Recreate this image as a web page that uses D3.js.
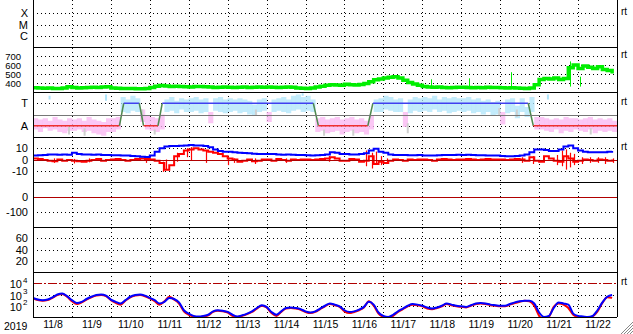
<!DOCTYPE html>
<html>
<head>
<meta charset="utf-8">
<script src="https://cdn.jsdelivr.net/npm/d3@7"></script>
<style>
  body { margin: 0; background: #fff; }
  svg { display: block; font-family: "Liberation Sans", Arial, sans-serif; }
</style>
</head>
<body>
<div id="chart"></div>
<script>
// ---- data (3-hourly from 2019-11-08 00:00) ----
const startDay = new Date(2019, 10, 8);
const dayLabels = ["11/8", "11/9", "11/10", "11/11", "11/12", "11/13", "11/14", "11/15",
                   "11/16", "11/17", "11/18", "11/19", "11/20", "11/21", "11/22"];

// solar wind speed (km/s)
const speed = [
  348, 345, 342, 345, 340, 338, 345, 358,
  350, 345, 348, 350, 352, 350, 355, 358,
  345, 342, 340, 340, 338, 336, 335, 340,
  350, 365, 372, 368, 362, 365, 360, 358,
  355, 360, 362, 358, 355, 350, 352, 355,
  352, 350, 352, 355, 350, 352, 355, 352,
  355, 352, 350, 352, 355, 352, 345, 342,
  340, 345, 355, 365, 375, 380, 378, 375,
  385, 380, 378, 382, 395, 415, 435, 445,
  455, 465, 470, 455, 430, 405, 390, 375,
  362, 355, 352, 355, 350, 348, 350, 352,
  352, 350, 348, 350, 348, 352, 350, 350,
  348, 345, 348, 345, 342, 340, 345, 380,
  440, 450, 445, 455, 440, 450, 570, 600,
  560, 590, 575, 560, 580, 550, 540, 505
];
const speedSpikes = [[10.23, 441], [11.2, 452], [12.27, 520], [13.8, 640], [14.05, 470]];

// sector model (day offset, state)
const sectorTimes  = [0, 2.22, 2.33, 2.73, 2.84, 3.21, 3.32, 7.2, 7.33, 8.6, 8.73, 12.72, 12.85, 15];
const sectorStates = ["A", "A", "T", "T", "A", "A", "T", "T", "A", "A", "T", "T", "A", "A"];
const sectorLabels = ["T", "A"];
const sectorPhi = [270, 90];

// IMF angle scatter, 3-hourly low / high (deg)
const phiLo = [
  60, 40, 70, 50, 60, 40, 30, 50,
  50, 60, 40, 50, 30, 20, 10, 40,
  40, 60, 200, 190, 210, 200, 120, 60,
  50, 40, 60, 200, 210, 190, 220, 200,
  200, 210, 190, 200, 110, 210, 200, 190,
  200, 210, 190, 200, 180, 170, 200, 210,
  120, 200, 210, 200, 190, 210, 220, 200,
  210, 200, 40, 50, 30, 40, 50, 20,
  40, 50, 30, 40, 20, 60, 200, 200,
  220, 210, 200, 200, 80, 190, 210, 200,
  210, 200, 220, 200, 210, 190, 200, 210,
  200, 210, 190, 200, 180, 200, 170, 180,
  100, 190, 200, 150, 200, 160, 200, 60,
  60, 50, 40, 60, 30, 50, 40, 60,
  50, 40, 60, 30, 50, 40, 50, 40
];
const phiHi = [
  150, 140, 150, 130, 160, 140, 130, 150,
  140, 150, 130, 160, 140, 130, 120, 150,
  150, 160, 320, 300, 330, 310, 220, 170,
  160, 150, 180, 300, 320, 290, 310, 300,
  310, 320, 300, 310, 200, 310, 320, 300,
  310, 300, 310, 300, 290, 260, 300, 310,
  200, 300, 310, 320, 300, 330, 340, 320,
  330, 300, 150, 160, 140, 150, 160, 140,
  150, 160, 140, 150, 130, 170, 300, 310,
  330, 320, 300, 310, 200, 300, 320, 310,
  320, 310, 330, 300, 320, 310, 320, 310,
  310, 320, 300, 310, 290, 300, 280, 290,
  200, 300, 310, 250, 310, 240, 320, 160,
  160, 150, 140, 150, 140, 160, 150, 150,
  140, 150, 160, 140, 150, 140, 150, 130
];
// extra scattered points: [day, low, high, kind]
const phiExtra = [
  [0.4, 300, 330, "T"], [1.85, 290, 340, "T"], [13.2, 300, 340, "T"], [6.9, 330, 350, "T"],
  [0.9, 20, 80, "G"], [1.3, 10, 70, "G"], [2.78, 130, 220, "G"], [5.7, 170, 220, "G"],
  [8.2, 10, 60, "G"], [9.6, 30, 110, "G"], [11.95, 170, 230, "G"], [12.4, 160, 220, "G"],
  [14.3, 20, 70, "G"], [7.45, 10, 60, "G"], [3.1, 20, 60, "G"]
];

// IMF Bt and Bz (nT)
const bt = [
  3.5, 3.8, 4, 4.5, 4.5, 4.2, 4.5, 4.2,
  6, 5, 4.5, 4.5, 4.2, 4.5, 4, 4,
  3.8, 3.8, 3.5, 3.5, 3.2, 3, 2.5, 2.2,
  3.5, 7, 10, 11.5, 12, 12, 12.2, 12.5,
  12.8, 12.5, 12.5, 12, 11, 9, 7.5, 7,
  7, 6.5, 6, 5.8, 5.5, 5.2, 5, 5,
  5, 4.8, 4.5, 4.3, 4.5, 4.2, 4, 4,
  3.8, 3.6, 3.8, 4, 4.5, 6.5, 6, 5,
  4.8, 4.5, 4.5, 5, 5.5, 8, 9.5, 7,
  6, 4.5, 4, 4, 4, 3.8, 3.8, 4,
  3.5, 3.5, 3.5, 3.8, 4, 4, 4, 4.2,
  4, 4.2, 4, 3.8, 3.8, 3.6, 3.5, 3.5,
  3.2, 3, 3, 3.2, 3.5, 4.5, 6.5, 9,
  9, 8.5, 7.5, 7.5, 9, 11.5, 12.5, 10,
  8, 7, 6.5, 6.5, 6.5, 6.5, 7, 7.5
];
const bz = [
  1, 0.5, -0.5, -1, -1.5, 0, -1, -0.5,
  -1, -1.5, -2, -1, -0.5, 0.5, -1, -0.5,
  0, 0.5, -0.5, -1, -0.5, 0.5, 1, 0.5,
  0, -1, -3, -9, -5, 3, 5, 8,
  9, 10, 9, 8, 7, 6, 5, 3,
  1, 0, -2, -1, 0, -1.5, -1, 0,
  0, -1, 0.5, -0.5, -1, 0, -0.5, 0,
  0, -0.5, 0, 0.5, 1, 2, 1, -1,
  -1, 0.5, 0, -2, -1, 3, -4, -2,
  -3, -1, 0, -0.5, -1, 0, -0.5, 0,
  0, -0.5, -1, 0, 0.5, 0, -0.5, 0,
  0, 0.5, 0, -0.5, 0, 0.5, 0, 0,
  0, -0.5, 0, 0.5, 0, -1, 2, -1,
  -2, 3, 1, -1, -2, 3, 1, -2,
  -1, 0, -0.5, -1, 0, -0.5, -1, 0
];
// Bz excursions: [day, low, high]
const bzSpikes = [
  [0.55, -3, 1], [1.05, -3.5, 0.5], [1.45, -2.5, 1], [2.9, -3, 1], [3.33, -11, -2], [3.42, -9, 0],
  [3.7, -2, 6], [3.95, 2, 10], [4.05, -1, 11], [4.45, -3, 8], [5.0, -5, 2], [5.15, -3, 1],
  [5.7, -4, 1], [6.5, -3, 1], [7.6, -2, 3], [8.55, -6, 8], [8.7, -8, 6], [8.8, -4, 7],
  [8.95, -5, 3], [9.1, -4, 1], [12.55, -3, 2], [12.85, -4, 3], [13.45, -5, 4], [13.6, -6, 8],
  [13.7, -9, 9], [13.8, -7, 6], [13.9, -5, 5], [14.1, -4, 2], [14.3, -3, 2], [14.5, -3, 2],
  [14.7, -4, 2], [14.9, -3, 1]
];

// electron flux, log10 values (two channels)
const fluxBlue = [
  2.7, 2.55, 2.5, 2.55, 2.75, 3.0, 3.1, 2.85,
  2.5, 2.25, 2.35, 2.6, 2.8, 2.95, 3.0, 2.9,
  2.55, 2.35, 2.2, 2.5, 2.8, 2.95, 3.0, 2.9,
  2.7, 2.5, 2.2, 2.35, 2.7, 2.6, 2.3, 1.6,
  1.3, 1.1, 1.05, 1.1, 1.2, 1.5, 1.6, 1.55,
  1.45, 1.2, 1.05, 1.15, 1.3, 1.5, 1.8, 2.05,
  1.9, 1.45, 1.2, 1.5, 1.8, 1.85, 1.8, 1.7,
  1.5, 1.4, 1.5, 1.75, 2.0, 2.2, 2.1, 1.95,
  1.6, 1.45, 1.5, 1.65, 1.9, 2.35, 2.1, 1.4,
  1.1, 1.0, 1.2, 1.5, 1.75, 2.0, 2.15, 2.1,
  2.0, 1.85, 1.75, 1.85, 2.0, 2.2, 2.1, 2.0,
  1.95, 1.9, 2.05, 2.2, 2.25, 2.2, 2.1, 2.05,
  2.0, 2.0, 2.15, 2.3, 2.4, 2.45, 2.45, 2.2,
  1.4, 1.0, 1.1, 1.8, 2.3, 2.2, 2.1, 1.3,
  1.1, 1.05, 1.0, 1.1, 1.6, 2.3, 2.8, 2.95
];
const fluxRed = [
  2.65, 2.5, 2.45, 2.5, 2.7, 2.95, 3.05, 2.8,
  2.4, 2.15, 2.3, 2.55, 2.75, 2.9, 2.95, 2.85,
  2.5, 2.25, 2.1, 2.45, 2.75, 2.9, 2.95, 2.85,
  2.65, 2.4, 2.1, 2.4, 2.8, 2.55, 2.2, 1.5,
  1.2, 1.05, 1.0, 1.05, 1.15, 1.45, 1.55, 1.5,
  1.4, 1.1, 1.0, 1.1, 1.25, 1.45, 1.75, 2.0,
  1.85, 1.35, 1.1, 1.45, 1.75, 1.8, 1.75, 1.65,
  1.45, 1.35, 1.45, 1.7, 1.95, 2.15, 2.05, 1.9,
  1.5, 1.35, 1.45, 1.6, 1.85, 2.4, 2.0, 1.3,
  1.0, 0.9, 1.1, 1.45, 1.7, 1.95, 2.1, 2.05,
  1.95, 1.75, 1.7, 1.8, 1.95, 2.15, 2.05, 1.95,
  1.9, 1.85, 2.0, 2.15, 2.2, 2.15, 2.05, 2.0,
  1.95, 1.95, 2.1, 2.25, 2.35, 2.45, 2.4, 2.0,
  1.1, 0.8, 1.0, 1.9, 2.2, 2.1, 1.8, 1.2,
  1.0, 0.95, 0.9, 1.05, 1.5, 2.25, 2.75, 2.7
];

// ---- layout ----
const W = 633, H = 334;
const left = 33, right = 617;

const svg = d3.select("#chart").append("svg")
    .attr("width", W)
    .attr("height", H);

const x = d3.scaleTime()
    .domain([startDay, d3.timeDay.offset(startDay, 15)])
    .range([left, right]);
const at3h = i => d3.timeHour.offset(startDay, 3 * i);
const atDay = d => new Date(+startDay + d * 864e5);

const yX = d3.scaleLog().domain([1e-7, 1e-3]).range([47, 2]);
const ySpeed = d3.scaleLinear().domain([300, 800]).range([92, 47]);
const yPhi = d3.scaleLinear().domain([0, 360]).range([137, 92]);
const yB = d3.scaleLinear().domain([-20, 20]).range([182, 137]);
const yDst = d3.scaleLinear().domain([-200, 100]).range([227, 182]);
const yKp = d3.scaleLinear().domain([0, 80]).range([272, 227]);
const yE = d3.scaleLog().domain([10, 1e5]).range([317, 272]);

const crisp = v => Math.round(v) + 0.5;

function hline(y, color, dash, width) {
  svg.append("line")
      .attr("x1", left).attr("x2", right)
      .attr("y1", crisp(y)).attr("y2", crisp(y))
      .attr("stroke", color)
      .attr("stroke-width", width || 1)
      .attr("stroke-dasharray", dash || null)
      .attr("shape-rendering", "crispEdges");
}

function clipFor(id, top, bottom) {
  svg.append("clipPath").attr("id", id)
    .append("rect").attr("x", left).attr("y", top)
    .attr("width", right - left).attr("height", bottom - top);
  return svg.append("g").attr("clip-path", `url(#${id})`);
}

// ---- grid ----
const dotted = "1,3";
for (let k = 1; k < 15; k++) {
  const xx = crisp(x(d3.timeDay.offset(startDay, k)));
  svg.append("line")
      .attr("x1", xx).attr("x2", xx).attr("y1", 0).attr("y2", 317)
      .attr("stroke", "#000").attr("stroke-dasharray", dotted)
      .attr("shape-rendering", "crispEdges");
}
[1e-4, 1e-5, 1e-6].forEach(v => hline(yX(v), "#000", dotted));
[700, 600, 500, 400].forEach(v => hline(ySpeed(v), "#000", dotted));
sectorPhi.forEach(v => hline(yPhi(v), "#000", dotted));
[10, -10].forEach(v => hline(yB(v), "#000", dotted));
[-100].forEach(v => hline(yDst(v), "#000", dotted));
[60, 40, 20].forEach(v => hline(yKp(v), "#000", dotted));
[1e3, 1e2].forEach(v => hline(yE(v), "#000", dotted));

// ---- panel 2: speed ----
const gSpeed = clipFor("cSpeed", 47, 92);
gSpeed.append("path")
    .datum(speed)
    .attr("fill", "none")
    .attr("stroke", "#00ee00")
    .attr("stroke-width", 3.5)
    .attr("d", d3.line().x((d, i) => x(at3h(i))).y(d => ySpeed(d)).curve(d3.curveStepAfter));
gSpeed.selectAll(".spk")
    .data(speedSpikes)
    .enter().append("line")
    .attr("x1", d => crisp(x(atDay(d[0])))).attr("x2", d => crisp(x(atDay(d[0]))))
    .attr("y1", d => ySpeed(d[1])).attr("y2", ySpeed(360))
    .attr("stroke", "#00ee00").attr("stroke-width", 1);

// ---- panel 3: sector ----
const gPhi = clipFor("cPhi", 92, 137);
const bw = x(at3h(1)) - x(at3h(0));
const phiColor = (lo, hi) => (lo + hi) / 2 > 180 ? "#aee4fa" : "#f9b4f2";
gPhi.selectAll(".phi")
    .data(phiLo.map((lo, i) => [i, lo, phiHi[i]]))
    .enter().append("rect")
    .attr("x", d => x(at3h(d[0])))
    .attr("width", bw + 0.3)
    .attr("y", d => yPhi(d[2]))
    .attr("height", d => yPhi(d[1]) - yPhi(d[2]))
    .attr("fill", d => phiColor(d[1], d[2]))
    .attr("opacity", 0.75);
gPhi.selectAll(".phix")
    .data(phiExtra)
    .enter().append("rect")
    .attr("x", d => x(atDay(d[0])))
    .attr("width", 2)
    .attr("y", d => yPhi(d[2]))
    .attr("height", d => yPhi(d[1]) - yPhi(d[2]))
    .attr("fill", d => d[3] === "T" ? "#aee4fa" : "#cfcfcf");

hline(yPhi(180), "#777", null);
const stateY = s => yPhi(sectorPhi[sectorLabels.indexOf(s)]);
for (let i = 0; i < sectorTimes.length - 1; i++) {
  const a = sectorStates[i], b = sectorStates[i + 1];
  const col = a !== b ? "#4f8a4f" : (a === "T" ? "#4040f0" : "#f03030");
  gPhi.append("line")
      .attr("x1", x(atDay(sectorTimes[i]))).attr("x2", x(atDay(sectorTimes[i + 1])))
      .attr("y1", stateY(a)).attr("y2", stateY(b))
      .attr("stroke", col).attr("stroke-width", 1.5);
}

// ---- panel 4: IMF ----
const gB = clipFor("cB", 137, 182);
hline(yB(0), "#b00000", null);
gB.selectAll(".bzs")
    .data(bzSpikes)
    .enter().append("line")
    .attr("x1", d => crisp(x(atDay(d[0])))).attr("x2", d => crisp(x(atDay(d[0]))))
    .attr("y1", d => yB(d[1])).attr("y2", d => yB(d[2]))
    .attr("stroke", "#ff0000").attr("stroke-width", 1.2);
gB.append("path")
    .datum(bz)
    .attr("fill", "none").attr("stroke", "#ff0000").attr("stroke-width", 2)
    .attr("d", d3.line().x((d, i) => x(at3h(i))).y(d => yB(d)).curve(d3.curveStepAfter));
gB.append("path")
    .datum(bt)
    .attr("fill", "none").attr("stroke", "#0000ff").attr("stroke-width", 2)
    .attr("d", d3.line().x((d, i) => x(at3h(i))).y(d => yB(d)).curve(d3.curveStepAfter));

// ---- panel 5: Dst zero line ----
hline(yDst(0), "#b00000", null);

// ---- panel 7: electrons ----
const gE = clipFor("cE", 272, 317);
hline(yE(1e4), "#b00000", "9,2,2,2");
const eLine = d3.line().x((d, i) => x(at3h(i))).y(d => yE(Math.pow(10, d))).curve(d3.curveMonotoneX);
gE.append("path").datum(fluxRed)
    .attr("fill", "none").attr("stroke", "#ff0000").attr("stroke-width", 2).attr("d", eLine);
gE.append("path").datum(fluxBlue)
    .attr("fill", "none").attr("stroke", "#0000ff").attr("stroke-width", 2).attr("d", eLine);

// ---- frame ----
[47, 92, 137, 182, 227, 272, 317].forEach(y => hline(y - 0.5, "#000", null));
[left, right].forEach(xx => {
  svg.append("line")
      .attr("x1", xx + 0.5).attr("x2", xx + 0.5).attr("y1", 0).attr("y2", 317)
      .attr("stroke", "#000").attr("shape-rendering", "crispEdges");
});

// ---- left axes ----
function leftAxis(scale, values, labels, pad, size) {
  const g = svg.append("g")
      .attr("transform", `translate(${left},0)`)
      .call(d3.axisLeft(scale).tickValues(values)
        .tickFormat((d, i) => labels[i]).tickSize(0).tickPadding(pad || 5));
  g.select(".domain").remove();
  g.selectAll("text")
      .attr("font-size", size || 11)
      .attr("font-family", "'Liberation Sans', Arial, sans-serif")
      .attr("fill", "#000");
}
leftAxis(yX, [1e-4, 1e-5, 1e-6], ["X", "M", "C"]);
leftAxis(ySpeed, [700, 600, 500, 400], ["700", "600", "500", "400"], 12, 9.5);
leftAxis(yPhi, sectorPhi, sectorLabels);
leftAxis(yB, [10, 0, -10], ["10", "0", "-10"]);
leftAxis(yDst, [0, -100], ["0", "-100"]);
leftAxis(yKp, [60, 40, 20], ["60", "40", "20"]);

const eExp = [4, 3, 2];
eExp.forEach(p => {
  const yy = yE(Math.pow(10, p));
  svg.append("text")
      .attr("x", 22).attr("y", yy + 5)
      .attr("text-anchor", "end")
      .attr("font-size", 11).attr("fill", "#000")
      .text("10");
  svg.append("text")
      .attr("x", 23).attr("y", yy - 0.5)
      .attr("font-size", 8).attr("fill", "#000")
      .text(p);
});

// ---- time axis ----
const gx = svg.append("g")
    .attr("transform", "translate(0,317)")
    .call(d3.axisBottom(x)
      .tickValues(dayLabels.map((d, i) => d3.timeHour.offset(startDay, 24 * i + 12)))
      .tickFormat((d, i) => dayLabels[i]).tickSize(0).tickPadding(4));
gx.select(".domain").remove();
gx.selectAll("text").attr("font-size", 10.5).attr("fill", "#000")
    .attr("font-family", "'Liberation Sans', Arial, sans-serif");
svg.append("text").attr("x", 4).attr("y", 329.5)
    .attr("font-size", 10.5).attr("fill", "#000").text("2019");

// ---- right "rt" marks ----
[yX(1e-4), ySpeed(700), yPhi(270), yB(10), yE(1e4)].forEach(yy => {
  svg.append("text").attr("x", 621).attr("y", yy + 2)
      .attr("font-size", 10).attr("fill", "#000").text("rt");
});

// ---- corner grip ----
[3, 6, 9, 12].forEach(k => {
  svg.append("line")
      .attr("x1", W - k).attr("y1", H).attr("x2", W).attr("y2", H - k)
      .attr("stroke", "#888").attr("stroke-width", 1);
});
</script>
</body>
</html>
